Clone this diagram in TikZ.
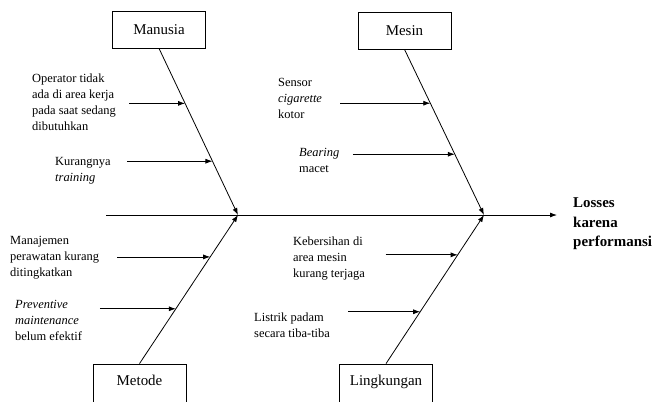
\documentclass[tikz,border=0pt]{standalone}
\usepackage{fontspec}
\setmainfont{Liberation Serif}
\usetikzlibrary{arrows.meta,calc}

\begin{document}
\begin{tikzpicture}[x=1bp,y=-1bp]
    \tikzstyle{bone}=[draw,line width=0.8pt,minimum width=93bp,minimum height=37bp,inner sep=0pt,font=\fontsize{15}{18}\selectfont]
    \tikzstyle{bonelow}=[bone,minimum height=46bp,text depth=14bp]
    \tikzstyle{cause}=[anchor=north west,inner sep=0pt,align=left,font=\fontsize{12.5}{16}\selectfont]
    \tikzstyle{arr}=[-{Latex[length=7bp,width=5bp]},line width=0.8pt]
    \useasboundingbox (0,0) rectangle (655,401);
    \node[bone] (man) at (159,29.5) {Manusia};
    \node[bone] (mes) at (404.5,30.5) {Mesin};
    \node[bonelow] (met) at (139.5,387) {Metode};
    \node[bonelow] (lin) at (386,387) {Lingkungan};
    \coordinate (tail) at (106,215);
    \coordinate (j1) at (238,215);
    \coordinate (j2) at (484,215);
    \coordinate (head) at (557,215);
    \node[cause,font=\fontsize{15}{19.5}\selectfont\bfseries] (eff) at (573,198) {Losses\\karena\\performansi};
    \draw[arr] (tail) -- (head);
    \draw[arr] (man.south) -- (j1);
    \draw[arr] (met.north) -- (j1);
    \draw[arr] (mes.south) -- (j2);
    \draw[arr] (lin.north) -- (j2);
    \node[cause] (t1) at (32,74) {Operator tidak\\ada di area kerja\\pada saat sedang\\dibutuhkan};
    \node[cause] (t2) at (55,157) {Kurangnya\\\textit{training}};
    \node[cause] (t3) at (278,78) {Sensor\\\textit{cigarette}\\kotor};
    \node[cause] (t4) at (299,148) {\textit{Bearing}\\macet};
    \node[cause] (t5) at (10,236) {Manajemen\\perawatan kurang\\ditingkatkan};
    \node[cause] (t6) at (15,300) {\textit{Preventive}\\\textit{maintenance}\\belum efektif};
    \node[cause] (t7) at (293,237) {Kebersihan di\\area mesin\\kurang terjaga};
    \node[cause] (t8) at (254,313) {Listrik padam\\secara tiba-tiba};
    \coordinate (e1) at ($(man.south)!0.33!(j1)$);
    \coordinate (e2) at ($(man.south)!0.677!(j1)$);
    \coordinate (e3) at ($(mes.south)!0.325!(j2)$);
    \coordinate (e4) at ($(mes.south)!0.633!(j2)$);
    \coordinate (e5) at ($(met.north)!0.718!(j1)$);
    \coordinate (e6) at ($(met.north)!0.369!(j1)$);
    \coordinate (e7) at ($(lin.north)!0.732!(j2)$);
    \coordinate (e8) at ($(lin.north)!0.349!(j2)$);
    \draw[arr] ([xshift=-56bp]e1) -- (e1);
    \draw[arr] ([xshift=-85bp]e2) -- (e2);
    \draw[arr] ([xshift=-90bp]e3) -- (e3);
    \draw[arr] ([xshift=-102bp]e4) -- (e4);
    \draw[arr] ([xshift=-93bp]e5) -- (e5);
    \draw[arr] ([xshift=-76bp]e6) -- (e6);
    \draw[arr] ([xshift=-72bp]e7) -- (e7);
    \draw[arr] ([xshift=-72bp]e8) -- (e8);
\end{tikzpicture}
\end{document}
